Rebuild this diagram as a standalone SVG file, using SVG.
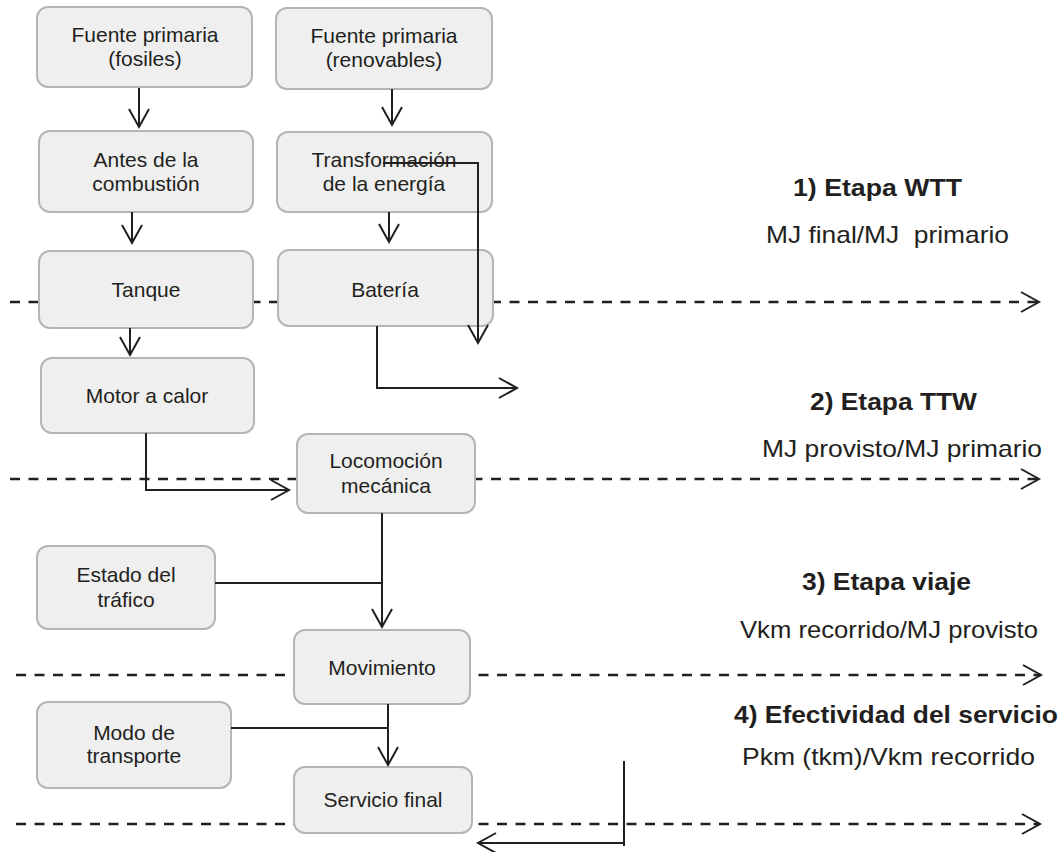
<svg xmlns="http://www.w3.org/2000/svg" width="1062" height="852" viewBox="0 0 1062 852">
<style>
.box{fill:#efefef;stroke:#b5b5b5;stroke-width:2}
.nt{font-family:"Liberation Sans",Arial,sans-serif;font-size:21px;fill:#231f20;text-anchor:middle}
.lt{font-family:"Liberation Sans",Arial,sans-serif;font-size:24px;fill:#231f20}
.b{font-weight:bold}
.ln{fill:none;stroke:#231f20;stroke-width:2}
.dl{fill:none;stroke:#231f20;stroke-width:2.5;stroke-dasharray:10 8.5}
</style>
<defs>
<marker id="ah" markerUnits="userSpaceOnUse" markerWidth="24" markerHeight="26" viewBox="-21 -13 24 26" refX="0" refY="0" orient="auto">
<path d="M-18,-10 L0,0 L-18,10" fill="none" stroke="#231f20" stroke-width="2" stroke-dasharray="none"/>
</marker>
</defs>
<rect width="1062" height="852" fill="#ffffff"/>
<g id="guides">
<path class="dl" d="M10,302 H1039" marker-end="url(#ah)"/>
<path class="dl" d="M10,479 H1039" marker-end="url(#ah)"/>
<path class="dl" d="M16,675 H1041" marker-end="url(#ah)"/>
<path class="dl" d="M16,824 H1040" marker-end="url(#ah)"/>
</g>
<g id="n1"><rect class="box" x="37" y="7" width="215" height="80" rx="11"/><text class="nt" x="145" y="42">Fuente primaria</text><text class="nt" x="145" y="66">(fosiles)</text></g>
<g id="n2"><rect class="box" x="276" y="8" width="216" height="81" rx="11"/><text class="nt" x="384" y="43">Fuente primaria</text><text class="nt" x="384" y="67">(renovables)</text></g>
<g id="n3"><rect class="box" x="39" y="131" width="214" height="81" rx="11"/><text class="nt" x="146" y="167">Antes de la</text><text class="nt" x="146" y="191">combustión</text></g>
<g id="n4"><rect class="box" x="277" y="132" width="215" height="80" rx="11"/><text class="nt" x="384" y="167">Transformación</text><text class="nt" x="384" y="191">de la energía</text></g>
<g id="n5"><rect class="box" x="39" y="251" width="214" height="77" rx="11"/><text class="nt" x="146" y="297">Tanque</text></g>
<g id="n6"><rect class="box" x="278" y="250" width="215" height="76" rx="11"/><text class="nt" x="385" y="297">Batería</text></g>
<g id="n7"><rect class="box" x="41" y="358" width="213" height="75" rx="11"/><text class="nt" x="147" y="403">Motor a calor</text></g>
<g id="n8"><rect class="box" x="297" y="434" width="178" height="79" rx="11"/><text class="nt" x="386" y="468">Locomoción</text><text class="nt" x="386" y="493">mecánica</text></g>
<g id="n9"><rect class="box" x="37" y="546" width="178" height="83" rx="11"/><text class="nt" x="126" y="582">Estado del</text><text class="nt" x="126" y="607">tráfico</text></g>
<g id="n10"><rect class="box" x="294" y="630" width="176" height="74" rx="11"/><text class="nt" x="382" y="675">Movimiento</text></g>
<g id="n11"><rect class="box" x="37" y="702" width="194" height="86" rx="11"/><text class="nt" x="134" y="740">Modo de</text><text class="nt" x="134" y="763">transporte</text></g>
<g id="n12"><rect class="box" x="294" y="767" width="178" height="66" rx="11"/><text class="nt" x="383" y="807">Servicio final</text></g>
<g id="connectors">
<path class="ln" d="M139,88 V127" marker-end="url(#ah)"/>
<path class="ln" d="M392,89 V125" marker-end="url(#ah)"/>
<path class="ln" d="M132,212 V243" marker-end="url(#ah)"/>
<path class="ln" d="M389,212 V242" marker-end="url(#ah)"/>
<path class="ln" d="M383,163 H478 V343" marker-end="url(#ah)"/>
<path class="ln" d="M130,328 V355" marker-end="url(#ah)"/>
<path class="ln" d="M377,326 V388 H517" marker-end="url(#ah)"/>
<path class="ln" d="M146,433 V490 H289" marker-end="url(#ah)"/>
<path class="ln" d="M215,583 H382"/>
<path class="ln" d="M382,513 V627" marker-end="url(#ah)"/>
<path class="ln" d="M231,728 H388"/>
<path class="ln" d="M388,704 V765" marker-end="url(#ah)"/>
<path class="ln" d="M624,761 V846"/>
<path class="ln" d="M624,843 H478" marker-end="url(#ah)"/>
</g>
<g id="labels">
<text class="lt b" x="793" y="196" textLength="169" lengthAdjust="spacingAndGlyphs">1) Etapa WTT</text>
<text class="lt" x="766" y="243" textLength="243" lengthAdjust="spacingAndGlyphs" xml:space="preserve">MJ final/MJ  primario</text>
<text class="lt b" x="810" y="410" textLength="167" lengthAdjust="spacingAndGlyphs">2) Etapa TTW</text>
<text class="lt" x="762" y="457" textLength="280" lengthAdjust="spacingAndGlyphs">MJ provisto/MJ primario</text>
<text class="lt b" x="802" y="590" textLength="169" lengthAdjust="spacingAndGlyphs">3) Etapa viaje</text>
<text class="lt" x="740" y="638" textLength="298" lengthAdjust="spacingAndGlyphs">Vkm recorrido/MJ provisto</text>
<text class="lt b" x="734" y="723" textLength="324" lengthAdjust="spacingAndGlyphs">4) Efectividad del servicio</text>
<text class="lt" x="742" y="765" textLength="293" lengthAdjust="spacingAndGlyphs">Pkm (tkm)/Vkm recorrido</text>
</g>
</svg>
